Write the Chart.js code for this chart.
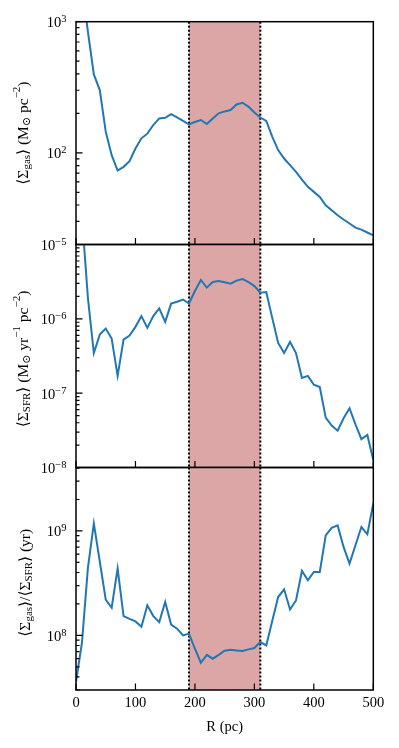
<!DOCTYPE html>
<html>
<head>
<meta charset="utf-8">
<script src="https://cdn.jsdelivr.net/npm/chart.js@4/dist/chart.umd.min.js"></script>
<style>
  body { margin: 0; background: #fff; }
  #wrap { position: relative; width: 399px; height: 748px; }
  canvas { position: absolute; left: 0; top: 0; }
</style>
</head>
<body>
<div id="wrap">
  <canvas id="gasChart" width="399" height="748"></canvas>
  <canvas id="sfrChart" width="399" height="748"></canvas>
  <canvas id="ratioChart" width="399" height="748"></canvas>
</div>
<script>
// radius in pc
const radius = [0, 10, 20, 30, 40, 50, 60, 70, 80, 90, 100, 110, 120, 130, 140, 150, 160, 170, 180, 190,
  200, 210, 220, 230, 240, 250, 260, 270, 280, 290, 300, 310, 320, 330, 340, 350, 360, 370, 380, 390,
  400, 410, 420, 430, 440, 450, 460, 470, 480, 490, 500];

// <Sigma_gas> (Msun pc^-2)
const gasSurface = [3500, 1900, 840, 396, 301, 145, 96, 73.2, 78.2, 86.4, 108, 129, 140, 163, 183, 185, 197, 186, 175, 165,
  172, 178, 166, 183, 200, 207, 212, 234, 241, 225, 203, 186, 175, 133, 105, 90.5, 80.5, 71.6, 62.6, 55,
  50.4, 46.1, 39.8, 36.5, 33.4, 31, 28.9, 26.9, 26, 24.7, 23.5];

// <Sigma_SFR> (Msun yr^-1 pc^-2)
const sfrSurface = [1e-4, 2.4e-5, 1.92e-6, 3.47e-7, 6.13e-7, 7.39e-7, 5.42e-7, 1.71e-7, 5.26e-7, 5.96e-7,
  7.8e-7, 1.09e-6, 7.56e-7, 1.09e-6, 1.38e-6, 9.1e-7, 1.6e-6, 1.7e-6, 1.82e-6, 1.61e-6,
  2.37e-6, 3.33e-6, 2.63e-6, 3.13e-6, 3.23e-6, 3.1e-6, 2.97e-6, 3.27e-6, 3.44e-6, 3.13e-6,
  2.76e-6, 2.25e-6, 2.29e-6, 1.03e-6, 4.74e-7, 3.47e-7, 4.89e-7, 3.47e-7, 1.6e-7, 1.71e-7,
  1.3e-7, 1.21e-7, 4.69e-8, 3.66e-8, 3.13e-8, 4.59e-8, 6.27e-8, 3.81e-8, 2.41e-8, 2.74e-8, 1.26e-8];

// <Sigma_gas>/<Sigma_SFR> (yr)
const depletionTime = [3.6e7, 8.5e7, 4.4e8, 1.18e9, 5.1e8, 2.2e8, 1.84e8, 4.36e8, 1.53e8, 1.44e8,
  1.36e8, 1.21e8, 1.94e8, 1.53e8, 1.34e8, 2.09e8, 1.27e8, 1.16e8, 1.0e8, 1.04e8,
  7.45e7, 5.47e7, 6.5e7, 5.98e7, 6.5e7, 7.13e7, 7.29e7, 7.18e7, 7.08e7, 7.35e7,
  7.57e7, 8.63e7, 8.02e7, 1.37e8, 2.33e8, 2.76e8, 1.77e8, 2.16e8, 4.14e8, 3.37e8,
  4.05e8, 4.05e8, 9.08e8, 1.07e9, 1.13e9, 7.03e8, 4.86e8, 7.29e8, 1.09e9, 9.29e8, 1.83e9];

// shaded ring
const bandStart = 190;
const bandEnd = 310;

const xTicks = [0, 100, 200, 300, 400, 500];

const FONT = '"Liberation Serif", "DejaVu Serif", serif';
const LEFT = 76, RIGHT = 373.3;

function sup(t) { return { t: t, k: 'sup' }; }
function sub(t) { return { t: t, k: 'sub' }; }
function txt(t) { return { t: t, k: 'n' }; }

function drawRich(ctx, parts, size) {
  let w = 0;
  parts.forEach(p => {
    ctx.font = (p.k === 'n' ? size : Math.round(size * 0.7)) + 'px ' + FONT;
    p.w = ctx.measureText(p.t).width;
    w += p.w;
  });
  let x = -w / 2;
  parts.forEach(p => {
    ctx.font = (p.k === 'n' ? size : Math.round(size * 0.7)) + 'px ' + FONT;
    let dy = 0;
    if (p.k === 'sub') dy = 3.5;
    if (p.k === 'sup') dy = -6.5;
    ctx.fillText(p.t, x, dy);
    x += p.w;
  });
}

function powLabel(ctx, exp, x, y) {
  const e = exp < 0 ? '\u2212' + (-exp) : String(exp);
  ctx.font = '10.5px ' + FONT;
  const we = ctx.measureText(e).width;
  ctx.fillText(e, x - we, y + 0.5);
  ctx.font = '14.5px ' + FONT;
  const wb = ctx.measureText('10').width;
  ctx.fillText('10', x - we - wb, y + 5.5);
}

const panelPlugin = {
  id: 'panel',
  beforeDatasetsDraw(chart) {
    const { ctx, chartArea: a, scales: { x } } = chart;
    const x0 = x.getPixelForValue(bandStart), x1 = x.getPixelForValue(bandEnd);
    ctx.save();
    ctx.fillStyle = 'rgb(221, 166, 166)';
    ctx.fillRect(x0, a.top, x1 - x0, a.bottom - a.top);
    ctx.strokeStyle = '#000';
    ctx.lineWidth = 2;
    ctx.setLineDash([2, 2]);
    [x0, x1].forEach(px => {
      ctx.beginPath();
      ctx.moveTo(px, a.top);
      ctx.lineTo(px, a.bottom);
      ctx.stroke();
    });
    ctx.restore();
  },
  afterDraw(chart, args, opts) {
    const { ctx, chartArea: a, scales: { x, y } } = chart;
    ctx.save();
    ctx.strokeStyle = '#000';
    ctx.fillStyle = '#000';
    // ticks
    ctx.lineWidth = 1.2;
    ctx.beginPath();
    xTicks.forEach(v => {
      const px = x.getPixelForValue(v);
      ctx.moveTo(px, a.bottom);
      ctx.lineTo(px, a.bottom - 6.5);
    });
    const lo = Math.floor(Math.log10(y.min)), hi = Math.ceil(Math.log10(y.max));
    for (let e = lo; e <= hi; e++) {
      for (let m = 1; m < 10; m++) {
        const v = m * Math.pow(10, e);
        if (v < y.min * 0.999 || v > y.max * 1.001) continue;
        const py = y.getPixelForValue(v);
        ctx.moveTo(a.left, py);
        ctx.lineTo(a.left + (m === 1 ? 6.5 : 3.5), py);
      }
    }
    ctx.stroke();
    // frame
    ctx.lineWidth = 1.5;
    ctx.strokeRect(a.left, a.top, a.right - a.left, a.bottom - a.top);
    // y labels
    ctx.textAlign = 'left';
    ctx.textBaseline = 'alphabetic';
    for (let e = lo; e <= hi; e++) {
      const v = Math.pow(10, e);
      if (v < y.min * 0.999 || v > y.max * 1.001) continue;
      powLabel(ctx, e, a.left - 9.5, y.getPixelForValue(v));
    }
    // y title
    ctx.save();
    ctx.translate(opts.titleX, (a.top + a.bottom) / 2 + opts.titleShift);
    ctx.rotate(-Math.PI / 2);
    ctx.textBaseline = 'middle';
    drawRich(ctx, opts.title, 15.5);
    ctx.restore();
    // x labels on the bottom panel
    if (opts.xLabels) {
      ctx.font = '14.5px ' + FONT;
      ctx.textAlign = 'center';
      ctx.textBaseline = 'middle';
      xTicks.forEach(v => ctx.fillText(String(v), x.getPixelForValue(v), a.bottom + 13.5));
      ctx.fillText('R (pc)', (a.left + a.right) / 2, a.bottom + 37.5);
    }
    ctx.restore();
  }
};

function makePanel(id, values, yMin, yMax, top, bottom, title, titleX, titleShift, xLabels) {
  const ctx = document.getElementById(id).getContext('2d');
  return new Chart(ctx, {
    type: 'line',
    data: {
      datasets: [{
        data: radius.map((r, i) => ({ x: r, y: values[i] })),
        borderColor: '#1f77b4',
        borderWidth: 2,
        pointRadius: 0,
        fill: false,
        tension: 0
      }]
    },
    options: {
      responsive: false,
      animation: false,
      events: [],
      layout: { padding: { left: LEFT, right: 399 - RIGHT, top: top, bottom: 748 - bottom } },
      plugins: {
        legend: { display: false },
        tooltip: { enabled: false },
        panel: { title: title, titleX: titleX, titleShift: titleShift, xLabels: xLabels }
      },
      scales: {
        x: { type: 'linear', min: 0, max: 500, display: false },
        y: { type: 'logarithmic', min: yMin, max: yMax, display: false }
      }
    },
    plugins: [panelPlugin]
  });
}

makePanel('gasChart', gasSurface, 20, 1000, 21.7, 244.5,
  [txt('\u27E8\u03A3'), sub('gas'), txt('\u27E9 (M'), sub('\u2299'), txt(' pc'), sup('\u22122'), txt(')')],
  24, 0, false);

makePanel('sfrChart', sfrSurface, 1e-8, 1e-5, 244.5, 467.5,
  [txt('\u27E8\u03A3'), sub('SFR'), txt('\u27E9 (M'), sub('\u2299'), txt(' yr'), sup('\u22121'), txt(' pc'), sup('\u22122'), txt(')')],
  24, 3, false);

makePanel('ratioChart', depletionTime, 3.0e7, 4.05e9, 467.5, 690,
  [txt('\u27E8\u03A3'), sub('gas'), txt('\u27E9/\u27E8\u03A3'), sub('SFR'), txt('\u27E9 (yr)')],
  26, 4, true);
</script>
</body>
</html>
